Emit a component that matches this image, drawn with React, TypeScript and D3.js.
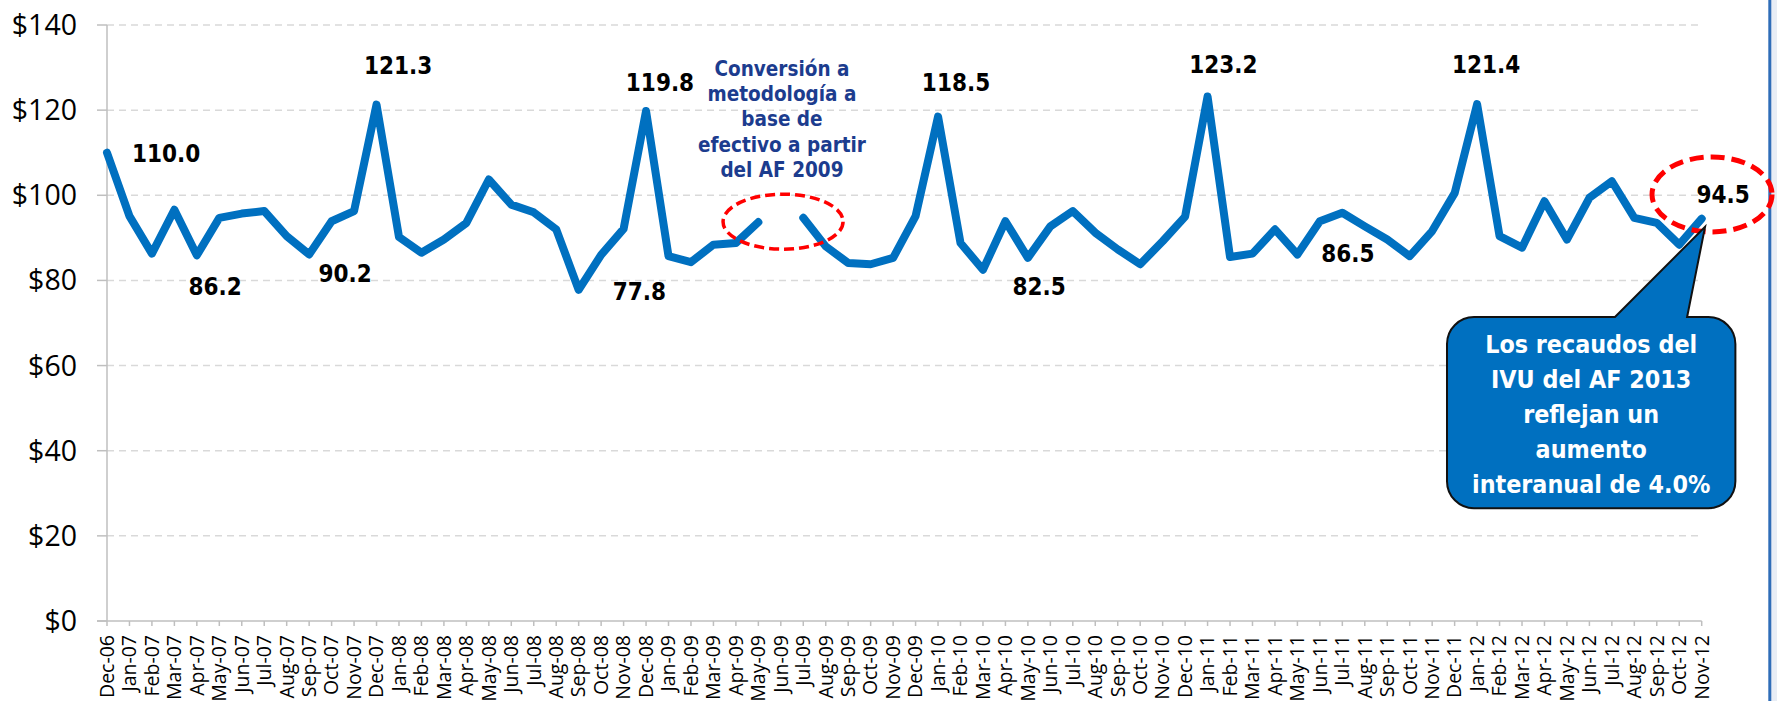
import React, { useEffect } from "react";
import * as d3 from "d3";

const months = [
  "Dec-06","Jan-07","Feb-07","Mar-07","Apr-07","May-07","Jun-07","Jul-07","Aug-07","Sep-07","Oct-07","Nov-07",
  "Dec-07","Jan-08","Feb-08","Mar-08","Apr-08","May-08","Jun-08","Jul-08","Aug-08","Sep-08","Oct-08","Nov-08",
  "Dec-08","Jan-09","Feb-09","Mar-09","Apr-09","May-09","Jun-09","Jul-09","Aug-09","Sep-09","Oct-09","Nov-09",
  "Dec-09","Jan-10","Feb-10","Mar-10","Apr-10","May-10","Jun-10","Jul-10","Aug-10","Sep-10","Oct-10","Nov-10",
  "Dec-10","Jan-11","Feb-11","Mar-11","Apr-11","May-11","Jun-11","Jul-11","Aug-11","Sep-11","Oct-11","Nov-11",
  "Dec-11","Jan-12","Feb-12","Mar-12","Apr-12","May-12","Jun-12","Jul-12","Aug-12","Sep-12","Oct-12","Nov-12",
];

const values: (number | null)[] = [
  110.0, 95.1, 86.3, 96.6, 85.9, 94.7, 95.7, 96.3, 90.4, 86.1, 93.9, 96.3,
  121.3, 90.2, 86.5, 89.6, 93.5, 103.7, 97.8, 96.0, 92.0, 77.8, 86.0, 92.1,
  119.8, 85.7, 84.3, 88.4, 88.8, 93.7, null, 94.7, 88.0, 84.1, 83.8, 85.3,
  95.1, 118.5, 88.8, 82.5, 93.9, 85.3, 92.7, 96.3, 91.2, 87.3, 83.8, 89.2,
  95.0, 123.2, 85.5, 86.3, 92.0, 86.1, 93.9, 95.9, 92.7, 89.6, 85.7, 91.6,
  100.5, 121.4, 90.4, 87.7, 98.6, 89.6, 99.4, 103.3, 94.7, 93.5, 88.4, 94.5,
];

const yTicks = [0, 20, 40, 60, 80, 100, 120, 140];

// data labels: text, fractional category position, value-space baseline
const labelTexts = ["110.0", "86.2", "90.2", "121.3", "119.8", "77.8", "118.5", "82.5", "123.2", "121.4", "86.5", "94.5"];
const labelPos = [2.63, 4.81, 10.6, 12.96, 24.62, 23.7, 37.8, 41.5, 49.7, 61.4, 55.25, 71.95];
const labelAt = [107.8, 76.6, 79.6, 128.5, 124.5, 75.4, 124.5, 76.6, 128.7, 128.7, 84.3, 98.2];

const noteLines = ["Conversión a", "metodología a", "base de", "efectivo a partir", "del AF 2009"];
const calloutLines = ["Los recaudos del", "IVU del AF 2013", "reflejan un", "aumento", "interanual de 4.0%"];

const W = 1777;
const H = 701;

const boldFont = "'DejaVu Sans Condensed', 'DejaVu Sans', sans-serif";
const axisFont = "'Open Sans', 'Noto Sans', sans-serif";

export default function App() {
  useEffect(() => {
    document.body.style.margin = "0";
  }, []);

  const x = d3.scalePoint<string>().domain(months).range([107, 1701.7]);
  const y = d3.scaleLinear().domain([0, 140]).range([621, 25]);
  const step = x.step();
  const xAt = (f: number) => (x(months[0]) as number) + f * step;

  const line = d3
    .line<number | null>()
    .defined((d) => d != null)
    .x((_, i) => x(months[i]) as number)
    .y((d) => y(d as number));

  const left = x(months[0]) as number;
  const right = x(months[months.length - 1]) as number;

  // callout geometry in data space
  const cx0 = xAt(59.66), cx1 = xAt(72.5);
  const cy0 = y(71.4), cy1 = y(26.5);
  const r = 27;
  const wL = xAt(67.14), wR = xAt(70.35);
  const tipX = xAt(71.15), tipY = y(92.6);
  const calloutPath = [
    `M${cx0 + r},${cy0}`,
    `L${wL},${cy0}`,
    `L${tipX},${tipY}`,
    `L${wR},${cy0}`,
    `L${cx1 - r},${cy0}`,
    `A${r},${r} 0 0 1 ${cx1},${cy0 + r}`,
    `L${cx1},${cy1 - r}`,
    `A${r},${r} 0 0 1 ${cx1 - r},${cy1}`,
    `L${cx0 + r},${cy1}`,
    `A${r},${r} 0 0 1 ${cx0},${cy1 - r}`,
    `L${cx0},${cy0 + r}`,
    `A${r},${r} 0 0 1 ${cx0 + r},${cy0}`,
    "Z",
  ].join(" ");
  const calloutCx = (cx0 + cx1) / 2;

  // ellipses
  const e1x = xAt(30.1), e1y = y(93.8);
  const e2x = xAt(71.46), e2y = y(100.2);

  return (
    <div style={{ position: "absolute", left: 0, top: 0 }}>
      <svg width={W} height={H} style={{ display: "block", background: "#fff" }}>
        {/* right frame */}
        <rect x={1771} y={0} width={W - 1771} height={H} fill="#E8EDF5" />
        <line x1={1769.8} x2={1769.8} y1={0} y2={H} stroke="#2F6DB8" strokeWidth={3} />

        {/* gridlines */}
        {yTicks.filter((t) => t > 0).map((t) => (
          <line key={"g" + t} x1={left} x2={right} y1={y(t)} y2={y(t)} stroke="#D9D9D9" strokeWidth={1.5} strokeDasharray="7 5" />
        ))}

        {/* y axis */}
        <line x1={left} x2={left} y1={y(140)} y2={y(0)} stroke="#BFBFBF" strokeWidth={1.5} />
        {yTicks.map((t) => (
          <g key={"yt" + t}>
            <line x1={left - 10} x2={left} y1={y(t)} y2={y(t)} stroke="#BFBFBF" strokeWidth={1.5} />
            <text x={77} y={y(t)} dy="0.35em" textAnchor="end" fontFamily={axisFont} fontSize={28.5} fill="#000">
              {"$" + t}
            </text>
          </g>
        ))}

        {/* x axis */}
        <line x1={left - 10} x2={right} y1={y(0)} y2={y(0)} stroke="#BFBFBF" strokeWidth={1.5} />
        {months.map((m) => (
          <g key={"xt" + m}>
            <line x1={x(m) as number} x2={x(m) as number} y1={y(0)} y2={y(0) + 5} stroke="#BFBFBF" strokeWidth={1.5} />
            <text
              transform={`translate(${x(m)},${y(0) + 14}) rotate(-90)`}
              dy="0.35em"
              textAnchor="end"
              fontFamily={axisFont}
              fontSize={19.5}
              fill="#000"
            >
              {m}
            </text>
          </g>
        ))}

        {/* series */}
        <path d={line(values) || ""} fill="none" stroke="#0070C0" strokeWidth={8} strokeLinejoin="round" strokeLinecap="round" />

        {/* data labels */}
        {labelTexts.map((t, i) => (
          <text
            key={"l" + i}
            x={xAt(labelPos[i])}
            y={y(labelAt[i])}
            textAnchor="middle"
            fontFamily={boldFont}
            fontStretch="condensed"
            fontWeight="bold"
            fontSize={24}
            fill="#000"
          >
            {t}
          </text>
        ))}

        {/* methodology note */}
        {noteLines.map((t, i) => (
          <text
            key={"n" + i}
            x={xAt(30.05)}
            y={y(128) + i * 25.2}
            textAnchor="middle"
            fontFamily={boldFont}
            fontStretch="condensed"
            fontWeight="bold"
            fontSize={20.5}
            fill="#1C3C8E"
          >
            {t}
          </text>
        ))}

        {/* ellipses */}
        <ellipse cx={e1x} cy={e1y} rx={60} ry={27.5} fill="none" stroke="#FF0000" strokeWidth={3.5} strokeDasharray="10 5" />
        <ellipse cx={e2x} cy={e2y} rx={60} ry={37.5} fill="none" stroke="#FF0000" strokeWidth={5} strokeDasharray="14 7" />

        {/* callout */}
        <path d={calloutPath} fill="#0070C0" stroke="#111" strokeWidth={2} strokeLinejoin="miter" />
        {calloutLines.map((t, i) => (
          <text
            key={"c" + i}
            x={calloutCx}
            y={cy0 + 36 + i * 35.1}
            textAnchor="middle"
            fontFamily={boldFont}
            fontStretch="condensed"
            fontWeight="bold"
            fontSize={24.8}
            fill="#fff"
          >
            {t}
          </text>
        ))}
      </svg>
    </div>
  );
}
